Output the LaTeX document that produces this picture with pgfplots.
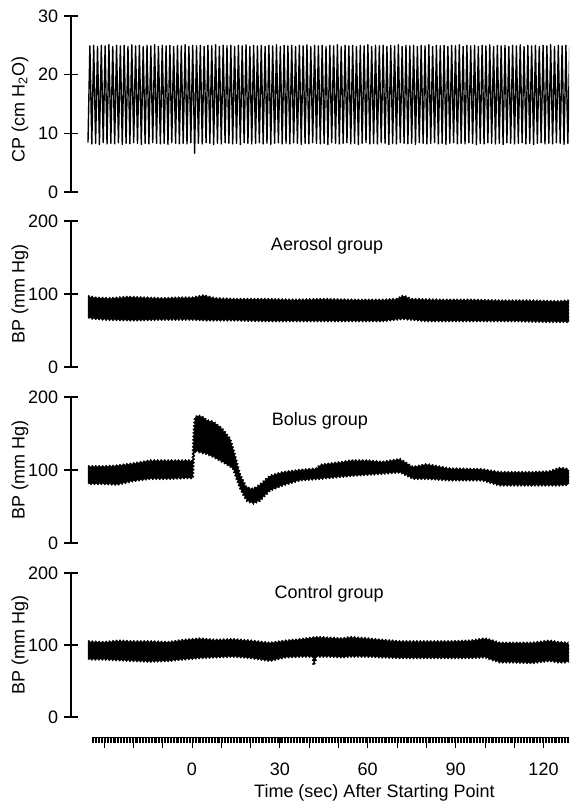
\documentclass[border=0pt]{standalone}
\usepackage{fontspec}
\setmainfont{Liberation Sans}
\usepackage{pgfplots}
\pgfplotsset{compat=1.18}
\usetikzlibrary{decorations.pathmorphing}

% 1 px of the reference = 0.75pt
\pgfplotsset{
  panel/.style={
    anchor=south west, scale only axis, width=373.5pt,
    xmin=-41.3, xmax=128.7,
    axis x line=none, axis y line*=left,
    axis line style={line width=1pt},
    every tick/.style={black, line width=1pt},
    tick align=center, major tick length=9.75pt,
    /pgf/number format/assume math mode=true,
    ylabel style={at={(axis description cs:-0.1025,0.5)}, anchor=center},
  },
  band/.style={fill=black, draw=black, line width=0.4pt, line join=round,
    decorate, decoration={zigzag, segment length=2.6pt, amplitude=0.8pt}},
}

\begin{document}
\fontsize{13.5}{16}\selectfont
\begin{tikzpicture}

% CP panel
\begin{axis}[panel, at={(53.25pt,-144pt)}, height=132pt,
  ymin=0, ymax=30, ytick={0,10,20,30},
  ylabel={CP (cm H\textsubscript{2}O)},
  ylabel style={at={(axis description cs:-0.1025,0.47)}}]
\addplot[black, line width=1.05pt, line join=round] coordinates {
(-35.5,8.4)(-34.85,24.9)(-34.2,8.2)(-33.55,25)(-32.9,8.3)(-32.25,24.8)(-31.6,8.1)(-30.95,25)
(-30.3,8.4)(-29.65,24.9)(-29,8.2)(-28.35,25.1)(-27.7,8.3)(-27.05,24.8)(-26.4,8.2)(-25.75,25)
(-25.1,8.4)(-24.45,24.9)(-23.8,8.1)(-23.15,25)(-22.5,8.3)(-21.85,24.8)(-21.2,8.2)(-20.55,25.1)
(-19.9,8.4)(-19.25,24.9)(-18.6,8.3)(-17.95,25)(-17.3,8.1)(-16.65,24.8)(-16,8.3)(-15.35,25)
(-14.7,8.2)(-14.05,24.9)(-13.4,8.4)(-12.75,25.1)(-12.1,8.3)(-11.45,24.8)(-10.8,8.2)(-10.15,25)
(-9.5,8.3)(-8.85,24.9)(-8.2,8.1)(-7.55,25)(-6.9,8.4)(-6.25,24.8)(-5.6,8.3)(-4.95,25)
(-4.3,8.2)(-3.65,24.9)(-3,8.3)(-2.35,25.1)(-1.7,8.2)(-1.05,24.8)(-0.4,8.4)(0.25,25)
(0.9,6.6)(1.55,24.9)(2.2,8.3)(2.85,25)(3.5,8.2)(4.15,24.8)(4.8,8.4)(5.45,25)
(6.1,8.3)(6.75,24.9)(7.4,8.1)(8.05,25.1)(8.7,8.3)(9.35,24.8)(10,8.2)(10.65,25)
(11.3,8.4)(11.95,24.9)(12.6,8.3)(13.25,25)(13.9,8.2)(14.55,24.8)(15.2,8.3)(15.85,25)
(16.5,8.1)(17.15,24.9)(17.8,8.4)(18.45,25.1)(19.1,8.3)(19.75,24.8)(20.4,8.2)(21.05,25)
(21.7,8.3)(22.35,24.9)(23,8.4)(23.65,25)(24.3,8.2)(24.95,24.8)(25.6,8.3)(26.25,25)
(26.9,8.1)(27.55,24.9)(28.2,8.3)(28.85,25.1)(29.5,8.4)(30.15,24.8)(30.8,8.2)(31.45,25)
(32.1,8.3)(32.75,24.9)(33.4,8.2)(34.05,25)(34.7,8.4)(35.35,24.8)(36,8.3)(36.65,25)
(37.3,8.1)(37.95,24.9)(38.6,8.3)(39.25,25.1)(39.9,8.2)(40.55,24.8)(41.2,8.4)(41.85,25)
(42.5,8.3)(43.15,24.9)(43.8,8.2)(44.45,25)(45.1,8.3)(45.75,24.8)(46.4,8.1)(47.05,25)
(47.7,8.4)(48.35,24.9)(49,8.3)(49.65,25.1)(50.3,8.2)(50.95,24.8)(51.6,8.3)(52.25,25)
(52.9,8.4)(53.55,24.9)(54.2,8.2)(54.85,25)(55.5,8.3)(56.15,24.8)(56.8,8.1)(57.45,25)
(58.1,8.3)(58.75,24.9)(59.4,8.4)(60.05,25.1)(60.7,8.2)(61.35,24.8)(62,8.3)(62.65,25)
(63.3,8.2)(63.95,24.9)(64.6,8.4)(65.25,25)(65.9,8.3)(66.55,24.8)(67.2,8.1)(67.85,25)
(68.5,8.3)(69.15,24.9)(69.8,8.2)(70.45,25.1)(71.1,8.4)(71.75,24.8)(72.4,8.3)(73.05,25)
(73.7,8.2)(74.35,24.9)(75,8.3)(75.65,25)(76.3,8.1)(76.95,24.8)(77.6,8.4)(78.25,25)
(78.9,8.3)(79.55,24.9)(80.2,8.2)(80.85,25.1)(81.5,8.3)(82.15,24.8)(82.8,8.4)(83.45,25)
(84.1,8.2)(84.75,24.9)(85.4,8.3)(86.05,25)(86.7,8.1)(87.35,24.8)(88,8.3)(88.65,25)
(89.3,8.4)(89.95,24.9)(90.6,8.2)(91.25,25.1)(91.9,8.3)(92.55,24.8)(93.2,8.2)(93.85,25)
(94.5,8.4)(95.15,24.9)(95.8,8.3)(96.45,25)(97.1,8.1)(97.75,24.8)(98.4,8.3)(99.05,25)
(99.7,8.2)(100.35,24.9)(101,8.4)(101.65,25.1)(102.3,8.3)(102.95,24.8)(103.6,8.2)(104.25,25)
(104.9,8.3)(105.55,24.9)(106.2,8.1)(106.85,25)(107.5,8.4)(108.15,24.8)(108.8,8.3)(109.45,25)
(110.1,8.2)(110.75,24.9)(111.4,8.3)(112.05,25.1)(112.7,8.4)(113.35,24.8)(114,8.2)(114.65,25)
(115.3,8.3)(115.95,24.9)(116.6,8.1)(117.25,25)(117.9,8.3)(118.55,24.8)(119.2,8.4)(119.85,25)
(120.5,8.2)(121.15,24.9)(121.8,8.3)(122.45,25.1)(123.1,8.2)(123.75,24.8)(124.4,8.4)(125.05,25)
(125.7,8.3)(126.35,24.9)(127,8.1)(127.65,25)(128.3,8.3)(128.95,24.8)
};
\end{axis}

% Aerosol group
\begin{axis}[panel, at={(53.25pt,-275.25pt)}, height=109.5pt,
  ymin=0, ymax=200, ytick={0,100,200}, ylabel={BP (mm Hg)}]
\addplot[band] coordinates {
(-35.5,97)(-33,95)(-28,94)(-22,96)(-16,95)(-10,94)(-4,95)(0,95)(4,98)(8,94)
(15,93)(25,93)(35,92)(45,93)(55,92)(65,92)(70,93)(72,98)(75,93)(85,92)
(95,92)(105,91)(115,91)(125,90)(128.7,91)
(128.7,62)(120,62)(110,63)(100,63)(90,63)(80,63)(72,66)(65,63)(55,63)(45,63)
(35,63)(25,63)(15,64)(5,64)(0,65)(-10,65)(-20,64)(-30,65)(-35.5,67)
};
\node[anchor=base] at (axis cs:46.1,160) {Aerosol group};
\end{axis}

% Bolus group
\begin{axis}[panel, at={(53.25pt,-407.25pt)}, height=109.5pt,
  ymin=0, ymax=200, ytick={0,100,200}, ylabel={BP (mm Hg)}]
\addplot[band] coordinates {
(-35.5,105)(-30,105)(-25.6,106)(-20,109)(-14.3,113)(-8,113)(-2,113)(0.2,113)
(0.6,152)(1,172)(2.1,175)(4,172)(5,168)(7.3,166)(10,158)(13,143)(14,130)
(16.4,94)(18.6,76)(20.9,74)(23.2,80)(26.6,92)(31,97)(36.9,100)(42.6,102)
(43.7,107)(51.5,111)(54,113)(60,113)(65,111)(71,115)(75.5,104)(80,108)
(88,102)(99,101)(105,97)(116,97)(122,98)(125.6,103)(128.7,101)
(128.7,80)(125.6,79)(116,79)(105,79)(99,86)(88,86)(80,88)(75.5,88)
(71,97)(65,95)(54,92)(51.5,91)(43.7,88)(36.9,86)(31,79)(26.6,72)
(23.2,58)(20.9,54)(18.6,58)(16.4,75)(14,102)(13,105)(10,112)(7.3,118)
(5,122)(2,125)(1,127)(0.6,118)(0.3,89)(-2,89)(-8,88)(-14.3,88)
(-20,85)(-25.6,80)(-30,81)(-35.5,81)
};
\node[anchor=base] at (axis cs:43.7,161) {Bolus group};
\end{axis}

% Control group
\begin{axis}[panel, at={(53.25pt,-537.75pt)}, height=108pt,
  ymin=0, ymax=200, ytick={0,100,200}, ylabel={BP (mm Hg)}]
\addplot[band] coordinates {
(-35.5,105)(-30,104)(-25,106)(-20,105)(-14.3,105)(-8,104)(-3,107)(2.7,109)
(8,107)(14,108)(20,106)(26.6,103)(32,106)(37,108)(42.6,111)(47,110)(51.5,109)
(54,111)(60,109)(65,107)(71,105)(80,105)(88,105)(95,106)(100,109)(102,107)
(105,103)(110,103)(116,103)(122,106)(125,104)(128.7,103)
(128.7,76)(125,76)(122,78)(116,75)(110,76)(105,76)(102,80)(100,83)(95,82)
(88,82)(80,82)(71,82)(65,83)(60,84)(54,84)(51.5,83)(47,84)(42.6,84)
(41.6,72)(41.2,84)(37,84)(32,83)(26.6,78)(20,82)(14,84)(8,83)(2.7,82)
(-3,80)(-8,78)(-14.3,77)(-20,78)(-25,79)(-30,80)(-35.5,80)
};
\node[anchor=base] at (axis cs:46.8,165) {Control group};
\end{axis}

% time marker row and time axis
\begin{axis}[anchor=south west, at={(69pt,-552.75pt)},
  scale only axis, width=357.75pt, height=0.75pt,
  xmin=-34.1, xmax=128.7, ymin=0, ymax=1,
  axis y line=none, axis x line*=bottom,
  axis line style={line width=0.6pt},
  tick align=outside,
  xtick={-30,-20,...,120},
  xticklabels={,,,0,,,30,,,60,,,90,,,120},
  minor xtick={-34,-33.5,...,128.5},
  major tick length=8.25pt, minor tick length=4.5pt,
  every tick/.style={black, line width=0.5pt},
  minor tick style={line width=0.4pt},
  xticklabel style={anchor=base, yshift=-20.25pt},
  /pgf/number format/assume math mode=true,
  xlabel={Time (sec) After Starting Point},
  xlabel style={at={(axis description cs:0.592,0)}, anchor=base, yshift=-45pt},
]
\end{axis}

\pgfresetboundingbox
\path[use as bounding box] (0,0) rectangle (426.75pt,-602.25pt);
\end{tikzpicture}
\end{document}
